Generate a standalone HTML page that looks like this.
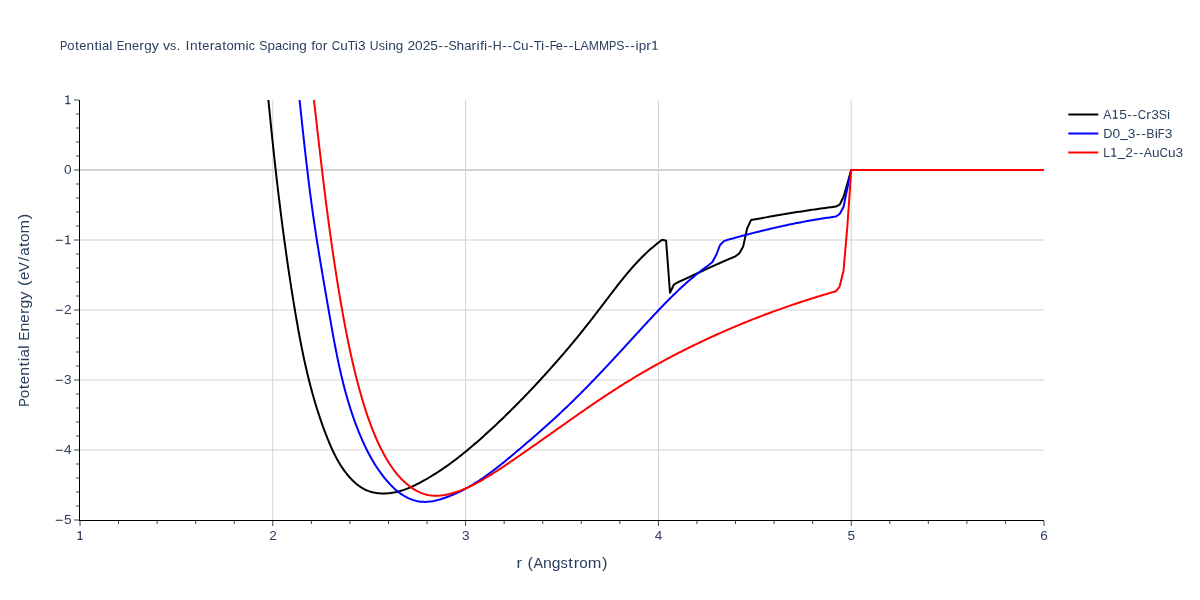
<!DOCTYPE html>
<html><head><meta charset="utf-8"><title>Potential Energy vs. Interatomic Spacing</title>
<style>
html,body{margin:0;padding:0;background:#fff;}
body{width:1200px;height:600px;overflow:hidden;}
svg{display:block;}
svg{will-change:transform;}
text{font-family:"Liberation Sans",sans-serif;fill:#2a3f5f;white-space:pre;}
</style></head><body>
<svg width="1200" height="600" viewBox="0 0 1200 600">
<rect x="0" y="0" width="1200" height="600" fill="#ffffff"/>
<defs><clipPath id="plotclip"><rect x="80" y="100" width="964" height="420"/></clipPath></defs>
<g stroke="#d3d3d3" stroke-width="1" fill="none">
<path d="M272.80,100V520"/><path d="M465.60,100V520"/><path d="M658.40,100V520"/><path d="M851.20,100V520"/>
<path d="M80,450.00H1044"/><path d="M80,380.00H1044"/><path d="M80,310.00H1044"/><path d="M80,240.00H1044"/>
</g>
<path d="M80,170H1044" stroke="#d3d3d3" stroke-width="2" fill="none"/>
<g clip-path="url(#plotclip)" fill="none" stroke-width="2" stroke-linejoin="round" stroke-linecap="butt">
<path stroke="#000000" d="M262.00,30.00L262.13,31.48L262.26,32.97L262.39,34.45L262.52,35.94L262.65,37.42L262.78,38.91L262.92,40.39L263.05,41.88L263.18,43.36L263.31,44.85L263.44,46.34L263.58,47.82L263.71,49.31L263.84,50.80L263.98,52.29L264.11,53.77L264.24,55.26L264.38,56.75L264.51,58.24L264.65,59.73L264.78,61.22L264.92,62.71L265.05,64.20L265.19,65.69L265.33,67.18L265.46,68.67L265.60,70.16L265.74,71.65L265.87,73.14L266.01,74.63L266.15,76.12L266.29,77.61L266.43,79.11L266.57,80.60L266.71,82.09L266.85,83.58L266.99,85.07L267.13,86.57L267.27,88.06L267.41,89.55L267.55,91.05L267.69,92.54L267.83,94.03L267.98,95.53L268.12,97.02L268.26,98.52L268.41,100.01L268.55,101.50L268.70,103.00L268.84,104.49L268.99,105.99L269.14,107.48L269.28,108.98L269.43,110.47L269.58,111.97L269.72,113.46L269.87,114.96L270.02,116.45L270.17,117.95L270.32,119.45L270.47,120.94L270.62,122.44L270.77,123.93L270.92,125.43L271.08,126.93L271.23,128.42L271.38,129.92L271.53,131.41L271.69,132.91L271.84,134.41L272.00,135.90L272.15,137.40L272.31,138.90L272.47,140.39L272.62,141.89L272.78,143.39L272.94,144.88L273.10,146.38L273.26,147.88L273.42,149.37L273.58,150.87L273.74,152.37L273.90,153.86L274.06,155.36L274.23,156.86L274.39,158.35L274.55,159.85L274.72,161.35L274.88,162.84L275.05,164.34L275.21,165.83L275.38,167.33L275.55,168.83L275.72,170.32L275.88,171.82L276.05,173.32L276.22,174.81L276.39,176.31L276.57,177.81L276.74,179.30L276.91,180.80L277.08,182.29L277.26,183.79L277.43,185.28L277.61,186.78L277.78,188.28L277.96,189.77L278.14,191.27L278.31,192.76L278.49,194.26L278.67,195.75L278.85,197.25L279.03,198.74L279.21,200.24L279.40,201.73L279.58,203.23L279.76,204.72L279.95,206.21L280.13,207.71L280.32,209.20L280.50,210.70L280.69,212.19L280.88,213.68L281.07,215.18L281.26,216.67L281.45,218.16L281.64,219.66L281.83,221.15L282.02,222.64L282.22,224.13L282.41,225.62L282.60,227.12L282.80,228.61L283.00,230.10L283.19,231.59L283.39,233.08L283.59,234.57L283.79,236.06L283.99,237.55L284.19,239.04L284.40,240.53L284.60,242.02L284.80,243.51L285.01,245.00L285.21,246.49L285.42,247.98L285.63,249.47L285.83,250.96L286.04,252.44L286.25,253.93L286.46,255.42L286.68,256.91L286.89,258.39L287.10,259.88L287.32,261.36L287.53,262.85L287.75,264.34L287.96,265.82L288.18,267.31L288.40,268.79L288.62,270.28L288.84,271.76L289.06,273.24L289.28,274.73L289.51,276.21L289.73,277.69L289.96,279.18L290.18,280.66L290.41,282.14L290.64,283.62L290.87,285.10L291.10,286.58L291.33,288.06L291.56,289.54L291.80,291.02L292.03,292.50L292.26,293.98L292.50,295.46L292.74,296.94L292.98,298.42L293.21,299.89L293.45,301.37L293.70,302.85L293.94,304.32L294.18,305.80L294.43,307.28L294.67,308.75L294.92,310.23L295.16,311.70L295.41,313.17L295.66,314.65L295.91,316.12L296.17,317.59L296.42,319.06L296.67,320.54L296.93,322.01L297.19,323.48L297.45,324.95L297.71,326.42L297.97,327.89L298.24,329.36L298.50,330.82L298.77,332.29L299.04,333.76L299.31,335.23L299.59,336.69L299.86,338.16L300.14,339.62L300.42,341.09L300.70,342.55L300.99,344.02L301.28,345.48L301.57,346.94L301.86,348.41L302.15,349.87L302.45,351.33L302.75,352.79L303.06,354.25L303.36,355.71L303.67,357.17L303.98,358.63L304.30,360.09L304.61,361.55L304.93,363.00L305.26,364.46L305.58,365.92L305.91,367.37L306.25,368.83L306.59,370.28L306.93,371.73L307.27,373.19L307.62,374.64L307.97,376.09L308.32,377.54L308.68,378.99L309.04,380.44L309.41,381.89L309.78,383.34L310.15,384.79L310.53,386.24L310.91,387.68L311.30,389.13L311.69,390.58L312.08,392.02L312.48,393.47L312.88,394.91L313.29,396.35L313.70,397.79L314.12,399.24L314.54,400.68L314.96,402.12L315.39,403.56L315.83,405.00L316.27,406.44L316.71,407.87L317.16,409.31L317.62,410.75L318.08,412.18L318.54,413.62L319.01,415.05L319.49,416.49L319.97,417.92L320.45,419.35L320.94,420.78L321.44,422.21L321.94,423.64L322.45,425.07L322.96,426.50L323.48,427.93L324.00,429.36L324.53,430.78L325.07,432.21L325.61,433.63L326.16,435.06L326.72,436.48L327.28,437.90L327.84,439.32L328.42,440.74L329.00,442.15L329.59,443.56L330.19,444.97L330.80,446.37L331.42,447.77L332.05,449.16L332.69,450.54L333.34,451.92L334.01,453.29L334.68,454.65L335.37,456.00L336.07,457.34L336.78,458.68L337.51,460.00L338.25,461.31L339.01,462.61L339.78,463.89L340.57,465.17L341.37,466.43L342.20,467.67L343.03,468.90L343.89,470.12L344.76,471.32L345.66,472.51L346.57,473.67L347.50,474.82L348.45,475.96L349.42,477.07L350.41,478.16L351.43,479.24L352.46,480.29L353.52,481.32L354.60,482.32L355.71,483.29L356.83,484.23L357.98,485.14L359.16,486.01L360.36,486.84L361.59,487.63L362.84,488.38L364.12,489.08L365.43,489.74L366.76,490.34L368.12,490.90L369.51,491.40L370.93,491.84L372.37,492.23L373.84,492.56L375.32,492.84L376.83,493.07L378.35,493.24L379.88,493.37L381.42,493.45L382.96,493.49L384.51,493.48L386.06,493.43L387.60,493.33L389.14,493.19L390.66,493.02L392.18,492.80L393.68,492.55L395.17,492.27L396.64,491.95L398.10,491.59L399.54,491.21L400.98,490.79L402.40,490.35L403.81,489.88L405.21,489.39L406.60,488.86L407.98,488.32L409.35,487.76L410.71,487.17L412.07,486.56L413.41,485.94L414.75,485.30L416.09,484.65L417.41,483.98L418.73,483.30L420.05,482.61L421.36,481.91L422.67,481.20L423.97,480.47L425.27,479.75L426.57,479.01L427.86,478.26L429.14,477.50L430.42,476.74L431.70,475.97L432.97,475.18L434.24,474.39L435.51,473.60L436.77,472.79L438.03,471.98L439.28,471.15L440.53,470.32L441.77,469.49L443.01,468.64L444.25,467.79L445.48,466.93L446.71,466.07L447.94,465.20L449.16,464.32L450.38,463.44L451.59,462.55L452.80,461.65L454.01,460.75L455.21,459.84L456.41,458.92L457.61,458.00L458.80,457.08L459.99,456.15L461.18,455.21L462.36,454.27L463.54,453.32L464.71,452.37L465.88,451.42L467.05,450.46L468.22,449.49L469.38,448.53L470.54,447.55L471.69,446.58L472.85,445.60L474.00,444.61L475.14,443.63L476.28,442.64L477.42,441.64L478.56,440.65L479.70,439.65L480.83,438.65L481.95,437.64L483.08,436.63L484.20,435.62L485.32,434.61L486.44,433.60L487.55,432.58L488.66,431.57L489.77,430.55L490.88,429.53L491.98,428.50L493.08,427.48L494.18,426.45L495.27,425.43L496.37,424.40L497.46,423.37L498.54,422.34L499.63,421.31L500.71,420.27L501.79,419.24L502.87,418.20L503.94,417.16L505.02,416.12L506.09,415.08L507.16,414.03L508.22,412.99L509.29,411.94L510.35,410.89L511.41,409.84L512.47,408.79L513.52,407.74L514.58,406.68L515.63,405.63L516.68,404.57L517.73,403.51L518.77,402.45L519.82,401.39L520.86,400.32L521.90,399.25L522.94,398.19L523.98,397.12L525.01,396.04L526.05,394.97L527.08,393.89L528.11,392.82L529.14,391.74L530.16,390.66L531.19,389.57L532.21,388.49L533.23,387.40L534.26,386.32L535.27,385.23L536.29,384.13L537.31,383.04L538.32,381.95L539.34,380.85L540.35,379.75L541.36,378.65L542.37,377.54L543.38,376.44L544.39,375.33L545.40,374.22L546.40,373.11L547.41,372.00L548.41,370.88L549.41,369.77L550.41,368.65L551.42,367.53L552.41,366.41L553.41,365.28L554.41,364.15L555.41,363.03L556.40,361.90L557.39,360.76L558.39,359.63L559.38,358.49L560.37,357.36L561.35,356.22L562.34,355.08L563.32,353.93L564.31,352.79L565.29,351.64L566.27,350.50L567.24,349.35L568.22,348.20L569.19,347.04L570.16,345.89L571.13,344.73L572.10,343.58L573.06,342.42L574.02,341.26L574.98,340.10L575.94,338.94L576.89,337.77L577.84,336.61L578.79,335.44L579.74,334.27L580.68,333.11L581.63,331.94L582.56,330.76L583.50,329.59L584.43,328.42L585.37,327.24L586.29,326.07L587.22,324.89L588.15,323.71L589.07,322.54L589.99,321.36L590.91,320.17L591.83,318.99L592.75,317.81L593.66,316.63L594.58,315.44L595.49,314.26L596.40,313.07L597.31,311.88L598.22,310.70L599.13,309.51L600.04,308.32L600.95,307.13L601.86,305.94L602.77,304.75L603.67,303.56L604.58,302.36L605.49,301.17L606.40,299.98L607.31,298.78L608.21,297.59L609.12,296.39L610.03,295.20L610.94,294.01L611.85,292.81L612.77,291.62L613.68,290.43L614.60,289.24L615.52,288.05L616.44,286.86L617.36,285.68L618.29,284.49L619.22,283.31L620.15,282.13L621.09,280.96L622.03,279.79L622.97,278.62L623.92,277.45L624.87,276.29L625.82,275.13L626.78,273.98L627.74,272.83L628.71,271.68L629.69,270.54L630.67,269.41L631.65,268.28L632.64,267.15L633.64,266.04L634.64,264.92L635.65,263.82L636.67,262.72L637.69,261.62L638.72,260.54L639.75,259.46L640.80,258.39L641.85,257.32L642.91,256.26L643.98,255.22L645.05,254.17L646.13,253.14L647.23,252.12L648.33,251.10L649.44,250.10L650.56,249.10L651.69,248.12L652.82,247.14L653.97,246.17L655.13,245.21L656.30,244.27L657.48,243.33L658.67,242.41L659.87,241.49L661.08,240.59L662.30,239.70L666.10,240.70L670.00,292.80L673.85,284.70L677.70,282.40L679.07,281.77L680.44,281.14L681.81,280.50L683.18,279.87L684.56,279.24L685.93,278.60L687.29,277.97L688.66,277.33L690.03,276.69L691.40,276.06L692.77,275.42L694.14,274.78L695.51,274.15L696.88,273.51L698.25,272.88L699.62,272.24L700.99,271.61L702.36,270.97L703.73,270.34L705.11,269.71L706.48,269.08L707.85,268.45L709.22,267.82L710.60,267.19L711.97,266.57L713.35,265.95L714.72,265.33L716.10,264.71L717.48,264.09L718.86,263.47L720.24,262.86L721.62,262.25L723.00,261.64L724.38,261.04L725.77,260.43L727.15,259.83L728.54,259.24L729.93,258.64L731.32,258.05L732.71,257.46L734.11,256.88L735.50,256.30L739.40,253.20L743.20,246.40L747.10,228.50L751.00,220.10L752.48,219.82L753.96,219.54L755.44,219.27L756.93,218.99L758.41,218.72L759.89,218.45L761.37,218.18L762.85,217.91L764.34,217.64L765.82,217.37L767.30,217.11L768.79,216.84L770.27,216.58L771.75,216.32L773.24,216.06L774.72,215.80L776.21,215.54L777.69,215.29L779.18,215.03L780.66,214.78L782.15,214.53L783.63,214.28L785.12,214.03L786.60,213.78L788.09,213.54L789.58,213.30L791.06,213.05L792.55,212.81L794.04,212.57L795.53,212.34L797.02,212.10L798.50,211.87L799.99,211.64L801.48,211.41L802.97,211.18L804.46,210.95L805.95,210.72L807.44,210.50L808.93,210.28L810.42,210.06L811.91,209.84L813.40,209.62L814.89,209.41L816.38,209.20L817.88,208.98L819.37,208.78L820.86,208.57L822.35,208.36L823.85,208.16L825.34,207.96L826.83,207.76L828.33,207.56L829.82,207.36L831.32,207.17L832.81,206.98L834.30,206.79L835.80,206.60L839.66,204.60L843.50,197.00L847.40,183.50L851.20,170.00L1044.00,170.00"/>
<path stroke="#0000ff" d="M291.60,30.00L291.79,31.50L291.97,32.99L292.16,34.49L292.34,35.99L292.52,37.48L292.71,38.98L292.89,40.47L293.07,41.97L293.25,43.47L293.43,44.96L293.60,46.46L293.78,47.95L293.96,49.45L294.13,50.94L294.30,52.44L294.48,53.93L294.65,55.43L294.82,56.92L294.99,58.42L295.16,59.91L295.33,61.41L295.50,62.90L295.67,64.39L295.84,65.89L296.01,67.38L296.17,68.88L296.34,70.37L296.51,71.86L296.67,73.36L296.84,74.85L297.00,76.34L297.16,77.84L297.33,79.33L297.49,80.82L297.65,82.31L297.82,83.81L297.98,85.30L298.14,86.79L298.30,88.28L298.46,89.78L298.62,91.27L298.78,92.76L298.94,94.25L299.10,95.74L299.26,97.23L299.42,98.73L299.58,100.22L299.74,101.71L299.90,103.20L300.06,104.69L300.22,106.18L300.38,107.67L300.54,109.16L300.70,110.65L300.86,112.15L301.02,113.64L301.18,115.13L301.34,116.62L301.50,118.11L301.66,119.60L301.82,121.09L301.98,122.58L302.14,124.07L302.30,125.56L302.46,127.05L302.62,128.54L302.78,130.03L302.94,131.52L303.10,133.00L303.27,134.49L303.43,135.98L303.59,137.47L303.75,138.96L303.92,140.45L304.08,141.94L304.25,143.43L304.41,144.92L304.58,146.40L304.74,147.89L304.91,149.38L305.08,150.87L305.25,152.36L305.41,153.85L305.58,155.33L305.75,156.82L305.92,158.31L306.09,159.80L306.27,161.29L306.44,162.77L306.61,164.26L306.78,165.75L306.96,167.24L307.14,168.72L307.31,170.21L307.49,171.70L307.67,173.18L307.85,174.67L308.03,176.16L308.21,177.65L308.39,179.13L308.57,180.62L308.75,182.11L308.94,183.59L309.12,185.08L309.31,186.57L309.50,188.05L309.69,189.54L309.88,191.02L310.07,192.51L310.26,194.00L310.45,195.48L310.65,196.97L310.84,198.46L311.04,199.94L311.24,201.43L311.44,202.91L311.64,204.40L311.84,205.88L312.05,207.37L312.25,208.86L312.46,210.34L312.67,211.83L312.87,213.31L313.08,214.80L313.30,216.28L313.51,217.77L313.72,219.25L313.94,220.74L314.16,222.22L314.38,223.71L314.60,225.19L314.82,226.68L315.04,228.16L315.27,229.65L315.49,231.13L315.72,232.62L315.95,234.10L316.17,235.59L316.40,237.07L316.64,238.56L316.87,240.04L317.10,241.53L317.33,243.01L317.57,244.49L317.81,245.98L318.04,247.46L318.28,248.95L318.52,250.43L318.76,251.92L319.00,253.40L319.24,254.88L319.49,256.37L319.73,257.85L319.97,259.34L320.22,260.82L320.47,262.30L320.71,263.79L320.96,265.27L321.21,266.76L321.46,268.24L321.70,269.72L321.95,271.21L322.20,272.69L322.46,274.17L322.71,275.66L322.96,277.14L323.21,278.62L323.46,280.11L323.72,281.59L323.97,283.07L324.23,284.56L324.48,286.04L324.74,287.53L324.99,289.01L325.25,290.49L325.50,291.98L325.76,293.46L326.02,294.94L326.27,296.43L326.53,297.91L326.79,299.39L327.04,300.87L327.30,302.36L327.56,303.84L327.82,305.32L328.07,306.81L328.33,308.29L328.59,309.77L328.85,311.26L329.10,312.74L329.36,314.22L329.62,315.71L329.88,317.19L330.14,318.67L330.40,320.15L330.66,321.64L330.92,323.12L331.18,324.60L331.44,326.08L331.70,327.56L331.97,329.04L332.23,330.52L332.50,332.00L332.77,333.48L333.03,334.96L333.31,336.44L333.58,337.92L333.85,339.40L334.13,340.88L334.40,342.35L334.68,343.83L334.96,345.31L335.25,346.78L335.53,348.25L335.82,349.73L336.11,351.20L336.40,352.67L336.70,354.15L336.99,355.62L337.29,357.09L337.60,358.56L337.90,360.02L338.21,361.49L338.52,362.96L338.84,364.42L339.15,365.89L339.47,367.35L339.80,368.81L340.13,370.28L340.46,371.74L340.79,373.20L341.13,374.66L341.47,376.11L341.82,377.57L342.17,379.02L342.53,380.48L342.88,381.93L343.25,383.38L343.61,384.83L343.99,386.28L344.36,387.73L344.74,389.17L345.13,390.62L345.52,392.06L345.91,393.50L346.31,394.94L346.72,396.38L347.13,397.82L347.54,399.25L347.96,400.69L348.39,402.12L348.82,403.55L349.26,404.98L349.70,406.41L350.15,407.83L350.60,409.26L351.06,410.68L351.53,412.10L352.00,413.52L352.48,414.94L352.96,416.35L353.45,417.76L353.95,419.18L354.45,420.59L354.96,421.99L355.48,423.40L356.00,424.80L356.53,426.20L357.07,427.60L357.62,429.00L358.17,430.40L358.73,431.79L359.29,433.18L359.87,434.57L360.45,435.95L361.03,437.34L361.63,438.72L362.24,440.10L362.85,441.47L363.47,442.85L364.10,444.22L364.74,445.58L365.39,446.94L366.05,448.30L366.72,449.65L367.39,451.00L368.08,452.34L368.78,453.67L369.49,455.01L370.21,456.33L370.94,457.65L371.69,458.96L372.44,460.27L373.21,461.57L373.99,462.86L374.78,464.15L375.59,465.43L376.40,466.70L377.24,467.96L378.08,469.22L378.94,470.47L379.81,471.70L380.70,472.93L381.60,474.15L382.51,475.37L383.44,476.57L384.39,477.76L385.35,478.94L386.32,480.11L387.31,481.27L388.32,482.41L389.35,483.54L390.39,484.66L391.44,485.75L392.52,486.82L393.61,487.87L394.72,488.89L395.84,489.89L396.99,490.86L398.15,491.80L399.33,492.71L400.53,493.58L401.75,494.42L402.99,495.23L404.25,495.99L405.52,496.72L406.82,497.40L408.14,498.04L409.48,498.64L410.83,499.18L412.20,499.69L413.59,500.14L414.99,500.54L416.41,500.90L417.83,501.20L419.27,501.44L420.72,501.64L422.18,501.77L423.65,501.86L425.12,501.88L426.60,501.84L428.08,501.75L429.57,501.61L431.06,501.42L432.55,501.18L434.04,500.91L435.52,500.59L437.01,500.24L438.49,499.85L439.97,499.43L441.44,498.99L442.91,498.52L444.36,498.04L445.81,497.53L447.25,497.01L448.67,496.48L450.09,495.93L451.50,495.36L452.90,494.78L454.29,494.19L455.67,493.58L457.05,492.95L458.41,492.32L459.77,491.67L461.12,491.00L462.46,490.33L463.79,489.64L465.12,488.94L466.44,488.23L467.75,487.50L469.05,486.77L470.35,486.02L471.64,485.26L472.92,484.49L474.20,483.72L475.47,482.93L476.74,482.13L478.00,481.32L479.25,480.50L480.49,479.68L481.74,478.84L482.97,478.00L484.20,477.15L485.43,476.29L486.65,475.42L487.87,474.55L489.08,473.66L490.28,472.78L491.49,471.88L492.69,470.98L493.88,470.07L495.07,469.16L496.26,468.24L497.44,467.32L498.62,466.39L499.80,465.46L500.98,464.52L502.15,463.58L503.32,462.64L504.48,461.69L505.65,460.74L506.81,459.78L507.97,458.82L509.13,457.87L510.29,456.90L511.44,455.94L512.59,454.98L513.75,454.01L514.90,453.04L516.05,452.07L517.20,451.10L518.35,450.13L519.49,449.16L520.64,448.19L521.79,447.22L522.93,446.25L524.07,445.27L525.22,444.30L526.36,443.32L527.50,442.34L528.64,441.36L529.77,440.38L530.91,439.40L532.05,438.42L533.18,437.44L534.31,436.45L535.44,435.46L536.57,434.48L537.70,433.49L538.83,432.50L539.95,431.51L541.08,430.51L542.20,429.52L543.32,428.52L544.44,427.53L545.56,426.53L546.68,425.53L547.79,424.53L548.91,423.52L550.02,422.52L551.13,421.51L552.24,420.50L553.35,419.49L554.45,418.48L555.56,417.46L556.66,416.45L557.76,415.43L558.86,414.41L559.95,413.39L561.05,412.37L562.14,411.34L563.23,410.31L564.32,409.28L565.41,408.25L566.49,407.22L567.58,406.18L568.66,405.15L569.74,404.11L570.81,403.06L571.89,402.02L572.96,400.97L574.03,399.93L575.10,398.88L576.17,397.82L577.23,396.77L578.30,395.71L579.36,394.65L580.42,393.59L581.48,392.53L582.54,391.47L583.59,390.40L584.64,389.33L585.70,388.27L586.75,387.20L587.79,386.12L588.84,385.05L589.89,383.97L590.93,382.90L591.98,381.82L593.02,380.74L594.06,379.66L595.10,378.57L596.13,377.49L597.17,376.41L598.21,375.32L599.24,374.23L600.27,373.14L601.31,372.05L602.34,370.96L603.37,369.87L604.40,368.77L605.42,367.68L606.45,366.58L607.48,365.49L608.50,364.39L609.53,363.29L610.55,362.19L611.58,361.09L612.60,359.99L613.62,358.89L614.64,357.79L615.66,356.69L616.68,355.58L617.70,354.48L618.72,353.38L619.74,352.27L620.76,351.17L621.77,350.06L622.79,348.95L623.81,347.85L624.82,346.74L625.84,345.63L626.86,344.53L627.87,343.42L628.89,342.31L629.90,341.20L630.92,340.09L631.94,338.98L632.95,337.88L633.97,336.77L634.98,335.66L636.00,334.55L637.01,333.44L638.03,332.33L639.05,331.23L640.06,330.12L641.08,329.01L642.10,327.90L643.11,326.80L644.13,325.69L645.15,324.58L646.17,323.48L647.18,322.37L648.20,321.27L649.22,320.17L650.25,319.06L651.27,317.96L652.29,316.86L653.32,315.76L654.34,314.67L655.37,313.57L656.40,312.48L657.43,311.38L658.46,310.29L659.50,309.21L660.53,308.12L661.57,307.04L662.61,305.96L663.66,304.88L664.70,303.80L665.75,302.73L666.80,301.66L667.85,300.59L668.91,299.53L669.97,298.46L671.03,297.41L672.10,296.35L673.17,295.30L674.24,294.26L675.31,293.21L676.39,292.18L677.48,291.14L678.56,290.11L679.65,289.08L680.75,288.06L681.85,287.05L682.95,286.03L684.06,285.03L685.17,284.02L686.28,283.03L687.40,282.03L688.53,281.05L689.66,280.07L690.80,279.09L691.94,278.12L693.08,277.16L694.23,276.20L695.39,275.24L696.55,274.30L697.72,273.36L698.89,272.42L700.07,271.50L701.26,270.58L702.45,269.66L703.65,268.76L704.85,267.86L706.06,266.96L707.28,266.08L708.50,265.20L712.40,262.00L716.20,255.00L720.10,245.00L723.90,241.10L727.80,239.80L729.26,239.39L730.72,238.99L732.18,238.59L733.64,238.19L735.10,237.79L736.56,237.39L738.02,236.99L739.48,236.60L740.95,236.21L742.41,235.82L743.87,235.43L745.34,235.04L746.80,234.66L748.27,234.27L749.73,233.89L751.20,233.52L752.67,233.14L754.13,232.77L755.60,232.39L757.07,232.03L758.54,231.66L760.01,231.29L761.48,230.93L762.95,230.57L764.43,230.21L765.90,229.86L767.37,229.51L768.84,229.16L770.32,228.81L771.79,228.46L773.27,228.12L774.74,227.78L776.22,227.44L777.70,227.11L779.18,226.78L780.65,226.45L782.13,226.12L783.61,225.80L785.09,225.48L786.57,225.17L788.06,224.85L789.54,224.54L791.02,224.23L792.50,223.93L793.99,223.63L795.47,223.33L796.96,223.03L798.44,222.74L799.93,222.45L801.42,222.17L802.90,221.88L804.39,221.61L805.88,221.33L807.37,221.06L808.86,220.79L810.35,220.53L811.84,220.27L813.34,220.01L814.83,219.75L816.32,219.50L817.82,219.26L819.31,219.01L820.81,218.77L822.30,218.54L823.80,218.31L825.30,218.08L826.80,217.86L828.30,217.64L829.80,217.42L831.30,217.21L832.80,217.00L834.30,216.80L835.80,216.60L839.66,214.00L843.50,207.00L847.40,188.00L851.20,170.00L1044.00,170.00"/>
<path stroke="#ff0000" d="M305.80,30.00L305.98,31.49L306.16,32.99L306.35,34.48L306.53,35.97L306.71,37.46L306.89,38.96L307.07,40.45L307.25,41.94L307.42,43.43L307.60,44.93L307.78,46.42L307.96,47.91L308.14,49.40L308.31,50.89L308.49,52.39L308.66,53.88L308.84,55.37L309.01,56.86L309.19,58.35L309.36,59.85L309.54,61.34L309.71,62.83L309.88,64.32L310.06,65.81L310.23,67.30L310.40,68.80L310.58,70.29L310.75,71.78L310.92,73.27L311.09,74.76L311.26,76.25L311.43,77.74L311.60,79.24L311.77,80.73L311.95,82.22L312.12,83.71L312.29,85.20L312.46,86.69L312.63,88.18L312.80,89.67L312.97,91.16L313.13,92.65L313.30,94.15L313.47,95.64L313.64,97.13L313.81,98.62L313.98,100.11L314.15,101.60L314.32,103.09L314.49,104.58L314.66,106.07L314.83,107.56L315.00,109.05L315.16,110.54L315.33,112.03L315.50,113.52L315.67,115.01L315.84,116.50L316.01,117.99L316.18,119.48L316.35,120.97L316.52,122.46L316.69,123.95L316.86,125.44L317.03,126.93L317.20,128.42L317.37,129.91L317.54,131.40L317.71,132.89L317.88,134.38L318.05,135.86L318.22,137.35L318.39,138.84L318.56,140.33L318.73,141.82L318.91,143.31L319.08,144.80L319.25,146.29L319.42,147.78L319.60,149.27L319.77,150.75L319.94,152.24L320.12,153.73L320.29,155.22L320.46,156.71L320.64,158.20L320.81,159.69L320.99,161.17L321.16,162.66L321.34,164.15L321.52,165.64L321.69,167.13L321.87,168.61L322.05,170.10L322.23,171.59L322.41,173.08L322.59,174.57L322.76,176.05L322.94,177.54L323.12,179.03L323.31,180.52L323.49,182.00L323.67,183.49L323.85,184.98L324.03,186.47L324.22,187.95L324.40,189.44L324.59,190.93L324.77,192.41L324.96,193.90L325.14,195.39L325.33,196.87L325.52,198.36L325.71,199.85L325.90,201.33L326.08,202.82L326.28,204.31L326.47,205.79L326.66,207.28L326.85,208.77L327.04,210.25L327.24,211.74L327.43,213.23L327.62,214.71L327.82,216.20L328.02,217.68L328.21,219.17L328.41,220.66L328.61,222.14L328.81,223.63L329.01,225.11L329.21,226.60L329.41,228.08L329.62,229.57L329.82,231.05L330.02,232.54L330.23,234.03L330.44,235.51L330.64,237.00L330.85,238.48L331.06,239.97L331.27,241.45L331.48,242.94L331.69,244.42L331.90,245.91L332.12,247.39L332.33,248.87L332.55,250.36L332.76,251.84L332.98,253.33L333.20,254.81L333.42,256.30L333.64,257.78L333.86,259.26L334.08,260.75L334.30,262.23L334.53,263.72L334.75,265.20L334.98,266.68L335.21,268.17L335.44,269.65L335.67,271.14L335.90,272.62L336.13,274.10L336.36,275.59L336.60,277.07L336.83,278.55L337.07,280.04L337.31,281.52L337.55,283.00L337.79,284.48L338.03,285.97L338.27,287.45L338.51,288.93L338.76,290.42L339.01,291.90L339.25,293.38L339.50,294.86L339.75,296.35L340.00,297.83L340.26,299.31L340.51,300.79L340.77,302.27L341.02,303.76L341.28,305.24L341.54,306.72L341.80,308.20L342.06,309.68L342.33,311.17L342.59,312.65L342.86,314.13L343.13,315.61L343.40,317.09L343.67,318.57L343.94,320.05L344.21,321.53L344.49,323.01L344.77,324.49L345.05,325.97L345.33,327.45L345.61,328.93L345.90,330.41L346.18,331.89L346.47,333.36L346.76,334.84L347.06,336.32L347.35,337.79L347.65,339.27L347.95,340.75L348.25,342.22L348.55,343.69L348.86,345.17L349.17,346.64L349.48,348.11L349.79,349.58L350.11,351.05L350.43,352.52L350.75,353.99L351.07,355.46L351.40,356.92L351.73,358.39L352.06,359.85L352.39,361.32L352.73,362.78L353.07,364.24L353.41,365.70L353.76,367.16L354.10,368.62L354.46,370.08L354.81,371.54L355.17,372.99L355.53,374.45L355.89,375.90L356.26,377.35L356.63,378.80L357.00,380.25L357.38,381.70L357.76,383.15L358.14,384.59L358.53,386.04L358.92,387.48L359.31,388.92L359.71,390.36L360.11,391.80L360.51,393.24L360.92,394.67L361.33,396.10L361.75,397.54L362.17,398.97L362.59,400.40L363.02,401.82L363.45,403.25L363.88,404.67L364.32,406.09L364.77,407.51L365.22,408.93L365.67,410.35L366.13,411.76L366.59,413.18L367.07,414.59L367.54,416.00L368.02,417.40L368.51,418.81L369.01,420.21L369.51,421.61L370.02,423.01L370.54,424.41L371.06,425.80L371.59,427.20L372.13,428.59L372.68,429.97L373.23,431.36L373.79,432.74L374.36,434.13L374.94,435.51L375.53,436.88L376.13,438.26L376.74,439.63L377.35,441.00L377.98,442.37L378.61,443.73L379.26,445.10L379.92,446.46L380.58,447.81L381.26,449.17L381.95,450.52L382.65,451.87L383.36,453.22L384.08,454.56L384.82,455.89L385.56,457.22L386.32,458.55L387.10,459.86L387.89,461.17L388.69,462.47L389.51,463.76L390.34,465.03L391.19,466.30L392.05,467.55L392.93,468.79L393.83,470.02L394.74,471.23L395.67,472.43L396.62,473.61L397.59,474.77L398.57,475.91L399.58,477.04L400.60,478.15L401.65,479.23L402.71,480.30L403.80,481.34L404.90,482.37L406.03,483.36L407.18,484.34L408.35,485.29L409.55,486.21L410.76,487.10L411.99,487.96L413.25,488.79L414.52,489.58L415.81,490.33L417.12,491.04L418.45,491.71L419.79,492.33L421.14,492.91L422.52,493.43L423.90,493.91L425.30,494.33L426.72,494.70L428.14,495.00L429.58,495.25L431.03,495.45L432.48,495.59L433.95,495.68L435.42,495.71L436.89,495.70L438.37,495.65L439.85,495.55L441.34,495.41L442.82,495.23L444.31,495.01L445.79,494.75L447.27,494.46L448.74,494.14L450.21,493.79L451.67,493.41L453.12,493.01L454.57,492.58L456.00,492.13L457.42,491.65L458.83,491.16L460.24,490.65L461.63,490.11L463.01,489.56L464.39,488.99L465.76,488.41L467.12,487.81L468.47,487.19L469.81,486.55L471.15,485.90L472.48,485.24L473.81,484.57L475.13,483.88L476.44,483.18L477.75,482.47L479.06,481.74L480.36,481.01L481.66,480.27L482.95,479.52L484.25,478.76L485.54,477.99L486.83,477.22L488.11,476.44L489.39,475.65L490.68,474.86L491.96,474.06L493.23,473.26L494.51,472.45L495.78,471.63L497.05,470.81L498.32,469.98L499.59,469.16L500.86,468.32L502.12,467.48L503.38,466.64L504.64,465.80L505.90,464.95L507.16,464.10L508.41,463.25L509.67,462.39L510.92,461.54L512.17,460.68L513.42,459.82L514.67,458.96L515.92,458.09L517.16,457.23L518.41,456.37L519.65,455.51L520.89,454.64L522.13,453.78L523.37,452.92L524.61,452.06L525.85,451.19L527.09,450.33L528.32,449.47L529.55,448.61L530.79,447.75L532.02,446.89L533.25,446.03L534.48,445.17L535.71,444.31L536.94,443.45L538.17,442.59L539.40,441.72L540.63,440.86L541.85,440.00L543.08,439.14L544.31,438.28L545.53,437.42L546.75,436.56L547.98,435.69L549.20,434.83L550.43,433.97L551.65,433.11L552.87,432.24L554.10,431.38L555.32,430.52L556.54,429.65L557.76,428.79L558.99,427.92L560.21,427.06L561.43,426.20L562.65,425.33L563.87,424.47L565.10,423.61L566.32,422.74L567.54,421.88L568.77,421.02L569.99,420.16L571.21,419.30L572.44,418.44L573.66,417.58L574.88,416.72L576.11,415.86L577.34,415.00L578.56,414.14L579.79,413.29L581.02,412.43L582.24,411.58L583.47,410.72L584.70,409.87L585.93,409.02L587.16,408.17L588.39,407.32L589.63,406.47L590.86,405.63L592.09,404.78L593.33,403.94L594.56,403.09L595.80,402.25L597.04,401.42L598.28,400.58L599.52,399.74L600.76,398.91L602.00,398.08L603.25,397.24L604.49,396.42L605.74,395.59L606.99,394.76L608.24,393.94L609.49,393.12L610.74,392.30L611.99,391.49L613.25,390.67L614.51,389.86L615.76,389.05L617.02,388.24L618.29,387.44L619.55,386.64L620.82,385.84L622.08,385.04L623.35,384.25L624.62,383.45L625.90,382.66L627.17,381.88L628.45,381.09L629.72,380.31L631.00,379.53L632.28,378.75L633.57,377.98L634.85,377.21L636.14,376.44L637.43,375.67L638.72,374.91L640.01,374.15L641.30,373.39L642.59,372.63L643.89,371.88L645.19,371.13L646.49,370.38L647.79,369.63L649.09,368.89L650.39,368.14L651.70,367.41L653.01,366.67L654.32,365.94L655.63,365.20L656.94,364.48L658.25,363.75L659.57,363.03L660.88,362.30L662.20,361.59L663.52,360.87L664.84,360.16L666.16,359.45L667.49,358.74L668.81,358.03L670.14,357.33L671.47,356.63L672.80,355.93L674.13,355.23L675.46,354.54L676.79,353.85L678.13,353.16L679.46,352.47L680.80,351.79L682.14,351.11L683.48,350.43L684.82,349.75L686.17,349.08L687.51,348.41L688.86,347.74L690.21,347.07L691.55,346.41L692.90,345.75L694.26,345.09L695.61,344.44L696.96,343.78L698.32,343.13L699.67,342.48L701.03,341.84L702.39,341.19L703.75,340.55L705.11,339.91L706.47,339.28L707.84,338.64L709.20,338.01L710.57,337.38L711.93,336.76L713.30,336.14L714.67,335.51L716.04,334.90L717.41,334.28L718.79,333.67L720.16,333.05L721.54,332.45L722.91,331.84L724.29,331.24L725.67,330.63L727.05,330.04L728.43,329.44L729.81,328.85L731.19,328.25L732.58,327.67L733.96,327.08L735.35,326.50L736.73,325.91L738.12,325.34L739.51,324.76L740.90,324.18L742.29,323.61L743.68,323.04L745.07,322.48L746.47,321.91L747.86,321.35L749.26,320.79L750.65,320.24L752.05,319.68L753.45,319.13L754.85,318.58L756.25,318.03L757.65,317.49L759.05,316.95L760.45,316.41L761.86,315.87L763.26,315.34L764.67,314.80L766.07,314.27L767.48,313.75L768.89,313.22L770.30,312.70L771.71,312.18L773.12,311.66L774.53,311.15L775.94,310.63L777.35,310.12L778.76,309.62L780.18,309.11L781.59,308.61L783.01,308.11L784.42,307.61L785.84,307.11L787.26,306.62L788.68,306.13L790.09,305.64L791.51,305.16L792.93,304.67L794.35,304.19L795.78,303.71L797.20,303.24L798.62,302.76L800.04,302.29L801.47,301.82L802.89,301.36L804.32,300.89L805.74,300.43L807.17,299.97L808.60,299.52L810.02,299.06L811.45,298.61L812.88,298.16L814.31,297.71L815.74,297.27L817.17,296.83L818.60,296.39L820.03,295.95L821.46,295.52L822.89,295.08L824.32,294.65L825.76,294.23L827.19,293.80L828.62,293.38L830.06,292.96L831.49,292.54L832.93,292.12L834.36,291.71L835.80,291.30L839.66,286.60L843.55,270.50L847.40,226.00L851.20,170.00L1044.00,170.00"/>
</g>
<g stroke="#444444" stroke-width="1" fill="none">
<path d="M80.00,521v5"/><path d="M272.80,521v5"/><path d="M465.60,521v5"/><path d="M658.40,521v5"/><path d="M851.20,521v5"/><path d="M1044.00,521v5"/>
<path d="M118.56,521v3"/><path d="M157.12,521v3"/><path d="M195.68,521v3"/><path d="M234.24,521v3"/><path d="M311.36,521v3"/><path d="M349.92,521v3"/><path d="M388.48,521v3"/><path d="M427.04,521v3"/><path d="M504.16,521v3"/><path d="M542.72,521v3"/><path d="M581.28,521v3"/><path d="M619.84,521v3"/><path d="M696.96,521v3"/><path d="M735.52,521v3"/><path d="M774.08,521v3"/><path d="M812.64,521v3"/><path d="M889.76,521v3"/><path d="M928.32,521v3"/><path d="M966.88,521v3"/><path d="M1005.44,521v3"/>
<path d="M79,520.00h-5"/><path d="M79,450.00h-5"/><path d="M79,380.00h-5"/><path d="M79,310.00h-5"/><path d="M79,240.00h-5"/><path d="M79,170.00h-5"/><path d="M79,100.00h-5"/>
<path d="M79,506.00h-3"/><path d="M79,492.00h-3"/><path d="M79,478.00h-3"/><path d="M79,464.00h-3"/><path d="M79,436.00h-3"/><path d="M79,422.00h-3"/><path d="M79,408.00h-3"/><path d="M79,394.00h-3"/><path d="M79,366.00h-3"/><path d="M79,352.00h-3"/><path d="M79,338.00h-3"/><path d="M79,324.00h-3"/><path d="M79,296.00h-3"/><path d="M79,282.00h-3"/><path d="M79,268.00h-3"/><path d="M79,254.00h-3"/><path d="M79,226.00h-3"/><path d="M79,212.00h-3"/><path d="M79,198.00h-3"/><path d="M79,184.00h-3"/><path d="M79,156.00h-3"/><path d="M79,142.00h-3"/><path d="M79,128.00h-3"/><path d="M79,114.00h-3"/>
</g>
<path d="M79,520.5H1044" stroke="#000" stroke-width="1" fill="none"/>
<path d="M79.5,100V520" stroke="#000" stroke-width="1" fill="none"/>
<g font-size="12">
<path fill="#2a3f5f" d="M77.65,538.85h5v1.15h-5zM79.65,531.00h1.25v8h-1.25zM77.65,531.80h2.3v1.1h-2.3z"/><text x="269.15" y="540.00" textLength="7.60" lengthAdjust="spacingAndGlyphs">2</text><text x="461.95" y="540.00" textLength="7.60" lengthAdjust="spacingAndGlyphs">3</text><text x="654.75" y="540.00" textLength="7.60" lengthAdjust="spacingAndGlyphs">4</text><text x="847.55" y="540.00" textLength="7.60" lengthAdjust="spacingAndGlyphs">5</text><text x="1040.35" y="540.00" textLength="7.60" lengthAdjust="spacingAndGlyphs">6</text>
<path fill="#2a3f5f" d="M55.75,519.75h7v1.1h-7z"/><text x="64.05" y="524.20" textLength="7.60" lengthAdjust="spacingAndGlyphs">5</text><path fill="#2a3f5f" d="M55.75,449.75h7v1.1h-7z"/><text x="64.05" y="454.20" textLength="7.60" lengthAdjust="spacingAndGlyphs">4</text><path fill="#2a3f5f" d="M55.75,379.75h7v1.1h-7z"/><text x="64.05" y="384.20" textLength="7.60" lengthAdjust="spacingAndGlyphs">3</text><path fill="#2a3f5f" d="M55.75,309.75h7v1.1h-7z"/><text x="64.05" y="314.20" textLength="7.60" lengthAdjust="spacingAndGlyphs">2</text><path fill="#2a3f5f" d="M55.75,239.75h7v1.1h-7z"/><path fill="#2a3f5f" d="M65.35,243.05h5v1.15h-5zM67.35,235.20h1.25v8h-1.25zM65.35,236.00h2.3v1.1h-2.3z"/><text x="64.05" y="174.20" textLength="7.60" lengthAdjust="spacingAndGlyphs">0</text><path fill="#2a3f5f" d="M65.35,103.05h5v1.15h-5zM67.35,95.20h1.25v8h-1.25zM65.35,96.00h2.3v1.1h-2.3z"/>
</g>
<g font-size="12">
<text transform="translate(59.94,49.80) scale(0.920,1)">P</text><text transform="translate(67.24,49.80) scale(1.091,1)">o</text><text transform="translate(74.92,49.80) scale(1.180,1)">t</text><text transform="translate(79.25,49.80) scale(1.072,1)">e</text><text transform="translate(86.40,49.80) scale(1.138,1)">n</text><text transform="translate(94.39,49.80) scale(1.180,1)">t</text><text transform="translate(98.80,49.80) scale(1.180,1)">i</text><text transform="translate(102.01,49.80) scale(1.081,1)">a</text><text transform="translate(109.30,49.80) scale(1.180,1)">l</text><text transform="translate(116.74,49.80) scale(0.948,1)">E</text><text transform="translate(124.32,49.80) scale(1.138,1)">n</text><text transform="translate(131.92,49.80) scale(1.072,1)">e</text><text transform="translate(139.27,49.80) scale(1.180,1)">r</text><text transform="translate(144.19,49.80) scale(1.120,1)">g</text><text transform="translate(151.68,49.80) scale(1.180,1)">y</text><text transform="translate(163.01,49.80) scale(1.180,1)">v</text><text transform="translate(170.10,49.80) scale(1.042,1)">s</text><text transform="translate(176.57,49.80) scale(1.180,1)">.</text><text transform="translate(185.50,49.80) scale(1.180,1)">I</text><text transform="translate(190.00,49.80) scale(1.138,1)">n</text><text transform="translate(197.99,49.80) scale(1.180,1)">t</text><text transform="translate(202.32,49.80) scale(1.072,1)">e</text><text transform="translate(209.68,49.80) scale(1.180,1)">r</text><text transform="translate(214.60,49.80) scale(1.081,1)">a</text><text transform="translate(222.20,49.80) scale(1.180,1)">t</text><text transform="translate(226.54,49.80) scale(1.091,1)">o</text><text transform="translate(233.82,49.80) scale(1.168,1)">m</text><text transform="translate(245.57,49.80) scale(1.180,1)">i</text><text transform="translate(248.78,49.80) scale(1.042,1)">c</text><text transform="translate(259.26,49.80) scale(1.025,1)">S</text><text transform="translate(267.47,49.80) scale(1.120,1)">p</text><text transform="translate(274.94,49.80) scale(1.081,1)">a</text><text transform="translate(282.16,49.80) scale(1.042,1)">c</text><text transform="translate(288.48,49.80) scale(1.180,1)">i</text><text transform="translate(291.70,49.80) scale(1.138,1)">n</text><text transform="translate(299.29,49.80) scale(1.120,1)">g</text><text transform="translate(311.14,49.80) scale(1.180,1)">f</text><text transform="translate(315.22,49.80) scale(1.091,1)">o</text><text transform="translate(322.70,49.80) scale(1.180,1)">r</text><text transform="translate(331.85,49.80) scale(0.967,1)">C</text><text transform="translate(340.22,49.80) scale(1.138,1)">u</text><text transform="translate(347.82,49.80) scale(1.008,1)">T</text><text transform="translate(354.78,49.80) scale(1.180,1)">i</text><text transform="translate(358.00,49.80) scale(1.144,1)">3</text><text transform="translate(369.86,49.80) scale(1.014,1)">U</text><text transform="translate(378.64,49.80) scale(1.042,1)">s</text><text transform="translate(384.96,49.80) scale(1.180,1)">i</text><text transform="translate(388.18,49.80) scale(1.138,1)">n</text><text transform="translate(395.78,49.80) scale(1.120,1)">g</text><text transform="translate(407.48,49.80) scale(1.144,1)">2</text><text transform="translate(415.11,49.80) scale(1.144,1)">0</text><text transform="translate(422.74,49.80) scale(1.144,1)">2</text><text transform="translate(430.37,49.80) scale(1.144,1)">5</text><text transform="translate(438.37,49.80) scale(1.180,1)">-</text><text transform="translate(443.82,49.80) scale(1.180,1)">-</text><text transform="translate(448.40,49.80) scale(1.025,1)">S</text><text transform="translate(456.61,49.80) scale(1.138,1)">h</text><text transform="translate(464.20,49.80) scale(1.081,1)">a</text><text transform="translate(471.62,49.80) scale(1.180,1)">r</text><text transform="translate(476.61,49.80) scale(1.180,1)">i</text><text transform="translate(479.97,49.80) scale(1.180,1)">f</text><text transform="translate(484.12,49.80) scale(1.180,1)">i</text><text transform="translate(487.71,49.80) scale(1.180,1)">-</text><text transform="translate(492.79,49.80) scale(1.040,1)">H</text><text transform="translate(502.17,49.80) scale(1.180,1)">-</text><text transform="translate(507.61,49.80) scale(1.180,1)">-</text><text transform="translate(512.70,49.80) scale(0.967,1)">C</text><text transform="translate(521.07,49.80) scale(1.138,1)">u</text><text transform="translate(529.03,49.80) scale(1.180,1)">-</text><text transform="translate(534.12,49.80) scale(1.008,1)">T</text><text transform="translate(541.08,49.80) scale(1.180,1)">i</text><text transform="translate(544.66,49.80) scale(1.180,1)">-</text><text transform="translate(549.74,49.80) scale(0.941,1)">F</text><text transform="translate(555.84,49.80) scale(1.072,1)">e</text><text transform="translate(563.36,49.80) scale(1.180,1)">-</text><text transform="translate(568.81,49.80) scale(1.180,1)">-</text><text transform="translate(573.89,49.80) scale(1.002,1)">L</text><text transform="translate(580.58,49.80) scale(1.025,1)">A</text><text transform="translate(588.78,49.80) scale(1.012,1)">M</text><text transform="translate(598.90,49.80) scale(1.012,1)">M</text><text transform="translate(608.95,49.80) scale(0.920,1)">P</text><text transform="translate(616.25,49.80) scale(1.025,1)">S</text><text transform="translate(624.83,49.80) scale(1.180,1)">-</text><text transform="translate(630.27,49.80) scale(1.180,1)">-</text><text transform="translate(635.43,49.80) scale(1.180,1)">i</text><text transform="translate(638.64,49.80) scale(1.120,1)">p</text><text transform="translate(646.32,49.80) scale(1.180,1)">r</text><path fill="#2a3f5f" d="M652.56,48.65h5.00v1.15h-5.00zM654.56,40.80h1.25v8.00h-1.25zM652.56,41.60h2.30v1.10h-2.30z"/>
</g>
<g font-size="14">
<text transform="translate(516.40,567.80) scale(1.180,1)">r</text><text transform="translate(527.49,567.80) scale(1.180,1)">(</text><text transform="translate(533.42,567.80) scale(1.025,1)">A</text><text transform="translate(543.00,567.80) scale(1.138,1)">n</text><text transform="translate(551.86,567.80) scale(1.120,1)">g</text><text transform="translate(560.58,567.80) scale(1.042,1)">s</text><text transform="translate(568.34,567.80) scale(1.180,1)">t</text><text transform="translate(573.63,567.80) scale(1.180,1)">r</text><text transform="translate(579.37,567.80) scale(1.091,1)">o</text><text transform="translate(587.86,567.80) scale(1.168,1)">m</text><text transform="translate(601.91,567.80) scale(1.180,1)">)</text>
<g transform="translate(29.4,310) rotate(-90)"><text transform="translate(-96.67,0.00) scale(0.920,1)">P</text><text transform="translate(-88.16,0.00) scale(1.091,1)">o</text><text transform="translate(-79.20,0.00) scale(1.180,1)">t</text><text transform="translate(-74.14,0.00) scale(1.072,1)">e</text><text transform="translate(-65.80,0.00) scale(1.138,1)">n</text><text transform="translate(-56.47,0.00) scale(1.180,1)">t</text><text transform="translate(-51.34,0.00) scale(1.180,1)">i</text><text transform="translate(-47.59,0.00) scale(1.081,1)">a</text><text transform="translate(-39.09,0.00) scale(1.180,1)">l</text><text transform="translate(-30.41,0.00) scale(0.948,1)">E</text><text transform="translate(-21.56,0.00) scale(1.138,1)">n</text><text transform="translate(-12.70,0.00) scale(1.072,1)">e</text><text transform="translate(-4.12,0.00) scale(1.180,1)">r</text><text transform="translate(1.62,0.00) scale(1.120,1)">g</text><text transform="translate(10.36,0.00) scale(1.180,1)">y</text><text transform="translate(23.99,0.00) scale(1.180,1)">(</text><text transform="translate(29.92,0.00) scale(1.072,1)">e</text><text transform="translate(38.26,0.00) scale(1.025,1)">V</text><text transform="translate(48.72,0.00) scale(1.180,1)">/</text><text transform="translate(54.19,0.00) scale(1.081,1)">a</text><text transform="translate(63.07,0.00) scale(1.180,1)">t</text><text transform="translate(68.12,0.00) scale(1.091,1)">o</text><text transform="translate(76.62,0.00) scale(1.168,1)">m</text><text transform="translate(90.67,0.00) scale(1.180,1)">)</text></g>
</g>
<g fill="none" stroke-width="2">
<path d="M1068.3,114.5h30" stroke="#000000"/><path d="M1068.3,133.5h30" stroke="#0000ff"/><path d="M1068.3,152.5h30" stroke="#ff0000"/>
</g>
<g font-size="12">
<text transform="translate(1103.30,118.70) scale(1.025,1)">A</text><path fill="#2a3f5f" d="M1112.82,117.55h5.00v1.15h-5.00zM1114.82,109.70h1.25v8.00h-1.25zM1112.82,110.50h2.30v1.10h-2.30z"/><text transform="translate(1119.14,118.70) scale(1.144,1)">5</text><text transform="translate(1127.14,118.70) scale(1.180,1)">-</text><text transform="translate(1132.59,118.70) scale(1.180,1)">-</text><text transform="translate(1137.67,118.70) scale(0.967,1)">C</text><text transform="translate(1146.25,118.70) scale(1.180,1)">r</text><text transform="translate(1151.17,118.70) scale(1.144,1)">3</text><text transform="translate(1158.80,118.70) scale(1.025,1)">S</text><text transform="translate(1167.08,118.70) scale(1.180,1)">i</text><text transform="translate(1103.30,137.70) scale(1.068,1)">D</text><text transform="translate(1112.55,137.70) scale(1.144,1)">0</text><path fill="#2a3f5f" d="M1120.18,139.00h7.63v1.04h-7.63z"/><text transform="translate(1127.82,137.70) scale(1.144,1)">3</text><text transform="translate(1135.81,137.70) scale(1.180,1)">-</text><text transform="translate(1141.26,137.70) scale(1.180,1)">-</text><text transform="translate(1146.34,137.70) scale(1.028,1)">B</text><text transform="translate(1154.65,137.70) scale(1.180,1)">i</text><text transform="translate(1157.86,137.70) scale(0.941,1)">F</text><text transform="translate(1164.76,137.70) scale(1.144,1)">3</text><text transform="translate(1103.30,156.70) scale(1.002,1)">L</text><path fill="#2a3f5f" d="M1111.30,155.55h5.00v1.15h-5.00zM1113.30,147.70h1.25v8.00h-1.25zM1111.30,148.50h2.30v1.10h-2.30z"/><path fill="#2a3f5f" d="M1117.62,158.00h7.63v1.04h-7.63z"/><text transform="translate(1125.25,156.70) scale(1.144,1)">2</text><text transform="translate(1133.25,156.70) scale(1.180,1)">-</text><text transform="translate(1138.69,156.70) scale(1.180,1)">-</text><text transform="translate(1143.78,156.70) scale(1.025,1)">A</text><text transform="translate(1151.98,156.70) scale(1.138,1)">u</text><text transform="translate(1159.58,156.70) scale(0.967,1)">C</text><text transform="translate(1167.96,156.70) scale(1.138,1)">u</text><text transform="translate(1175.55,156.70) scale(1.144,1)">3</text>
</g>
</svg>
</body></html>
